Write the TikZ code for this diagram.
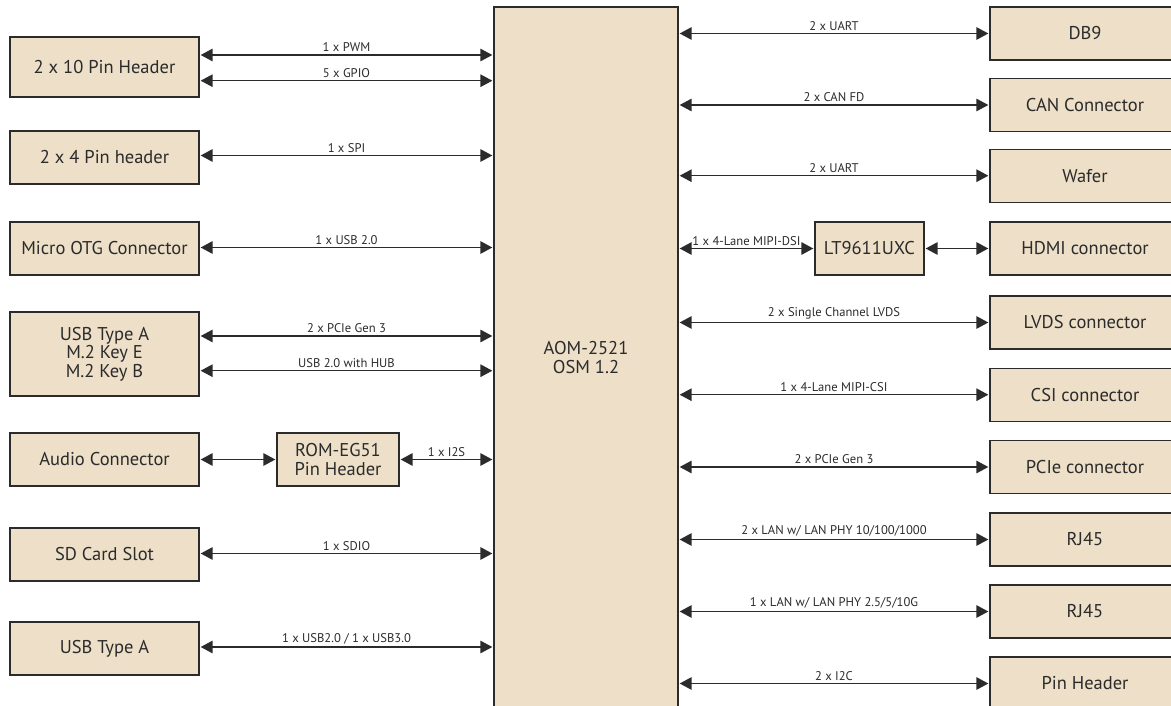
\documentclass[tikz,border=0pt]{standalone}
\usepackage{fontspec}
\setmainfont{PT Sans}
\usetikzlibrary{arrows.meta}
\definecolor{boxfill}{HTML}{EDDFC8}
\definecolor{boxline}{HTML}{2B2B2B}

\begin{document}
\begin{tikzpicture}[x=1pt, y=-1pt,
    blk/.style={draw=boxline, fill=boxfill, line width=1.3pt, inner sep=0pt, minimum height=53pt, align=center, text=boxline, font=\fontsize{18.5}{18.5}\selectfont},
    lblk/.style={blk, minimum width=189pt},
    rblk/.style={blk, minimum width=190pt},
    link/.style={{Triangle[length=12pt,width=12.5pt]}-{Triangle[length=12pt,width=12.5pt]}, line width=1.4pt, draw=boxline, shorten <=1pt, shorten >=1pt},
    lbl/.style={midway, above, inner sep=2.5pt, text=boxline, font=\fontsize{12.6}{13}\selectfont}]
\clip (0,0) rectangle (1171,706);
\node[blk, minimum width=184pt, minimum height=701pt] (som) at (586,357.5) {AOM-2521\\OSM 1.2};

\node[lblk, minimum height=60pt] (hdr10) at (104.5,67) {2 x 10 Pin Header};
\node[lblk] (hdr4) at (104.5,157.5) {2 x 4 Pin header};
\node[lblk] (otg) at (104.5,248.5) {Micro OTG Connector};
\node[lblk, minimum height=84pt] (usbm2) at (104.5,354) {USB Type A\\M.2 Key E\\M.2 Key B};
\node[lblk] (audio) at (104.5,459.5) {Audio Connector};
\node[blk, minimum width=122pt] (rom) at (338,459.5) {ROM-EG51\\[0.5pt]Pin Header};
\node[lblk] (sd) at (104.5,554.5) {SD Card Slot};
\node[lblk] (usba) at (104.5,648.5) {USB Type A};

\node[rblk] (db9) at (1085,33.5) {DB9};
\node[rblk] (can) at (1085,105) {CAN Connector};
\node[rblk] (wafer) at (1085,175.7) {Wafer};
\node[rblk] (hdmi) at (1085,248.5) {HDMI connector};
\node[blk, minimum width=109pt] (lt) at (869.5,248.5) {LT9611UXC};
\node[rblk] (lvds) at (1085,322.5) {LVDS connector};
\node[rblk] (csi) at (1085,394.7) {CSI connector};
\node[rblk] (pcie) at (1085,467) {PCIe connector};
\node[rblk] (rj1) at (1085,539.5) {RJ45};
\node[rblk] (rj2) at (1085,611.5) {RJ45};
\node[rblk] (pinhdr) at (1085,683.5) {Pin Header};

\draw[link] ([yshift=12pt]hdr10.east) -- ([yshift=12pt]hdr10.east -| som.west) node[lbl]{1 x PWM};
\draw[link] ([yshift=-13.7pt]hdr10.east) -- ([yshift=-13.7pt]hdr10.east -| som.west) node[lbl]{5 x GPIO};
\draw[link] ([yshift=2pt]hdr4.east) -- ([yshift=2pt]hdr4.east -| som.west) node[lbl]{1 x SPI};
\draw[link] ([yshift=1pt]otg.east) -- ([yshift=1pt]otg.east -| som.west) node[lbl]{1 x USB 2.0};
\draw[link] ([yshift=18pt]usbm2.east) -- ([yshift=18pt]usbm2.east -| som.west) node[lbl]{2 x PCIe Gen 3};
\draw[link] ([yshift=-16.7pt]usbm2.east) -- ([yshift=-16.7pt]usbm2.east -| som.west) node[lbl]{USB 2.0 with HUB};
\draw[link] (audio) -- (rom);
\draw[link] (rom.east) -- (rom.east -| som.west) node[lbl]{1 x I2S};
\draw[link] ([yshift=1pt]sd.east) -- ([yshift=1pt]sd.east -| som.west) node[lbl]{1 x SDIO};
\draw[link] ([yshift=1.5pt]usba.east) -- ([yshift=1.5pt]usba.east -| som.west) node[lbl]{1 x USB2.0 / 1 x USB3.0};

\draw[link] (som.east |- db9.west) -- (db9.west) node[lbl]{2 x UART};
\draw[link] (som.east |- can.west) -- (can.west) node[lbl]{2 x CAN FD};
\draw[link] (som.east |- wafer.west) -- (wafer.west) node[lbl]{2 x UART};
\draw[link] (som.east |- lt.west) -- (lt.west) node[lbl]{1 x 4-Lane MIPI-DSI};
\draw[link] (lt) -- (hdmi);
\draw[link] (som.east |- lvds.west) -- (lvds.west) node[lbl]{2 x Single Channel LVDS};
\draw[link] (som.east |- csi.west) -- (csi.west) node[lbl]{1 x 4-Lane MIPI-CSI};
\draw[link] (som.east |- pcie.west) -- (pcie.west) node[lbl]{2 x PCIe Gen 3};
\draw[link] (som.east |- rj1.west) -- (rj1.west) node[lbl]{2 x LAN w/ LAN PHY 10/100/1000};
\draw[link] (som.east |- rj2.west) -- (rj2.west) node[lbl]{1 x LAN w/ LAN PHY 2.5/5/10G};
\draw[link] (som.east |- pinhdr.west) -- (pinhdr.west) node[lbl]{2 x I2C};
\end{tikzpicture}
\end{document}
